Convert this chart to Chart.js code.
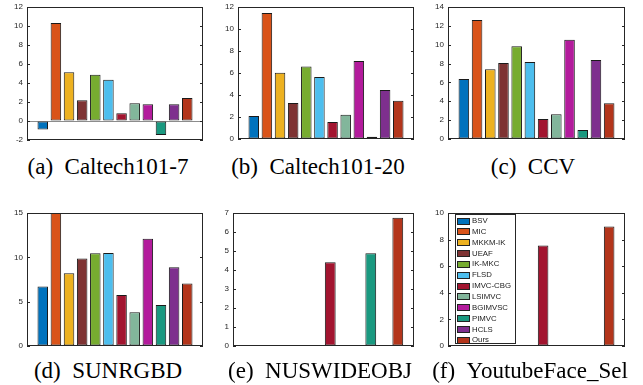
<!DOCTYPE html>
<html>
<head>
<meta charset="utf-8">
<script src="https://cdn.jsdelivr.net/npm/chart.js@4.4.1/dist/chart.umd.min.js"></script>
<style>
  body { margin: 0; background: #fff; }
  #fig { position: relative; width: 643px; height: 385px; overflow: hidden; background: #fff; }
  .panel { position: absolute; }
  .cap {
    position: absolute; width: 240px; text-align: center;
    font-family: "Liberation Serif", "Times New Roman", serif;
    font-size: 23px; line-height: 23px; color: #000; white-space: nowrap;
  }
  #legend {
    position: absolute; left: 455px; top: 214px; width: 61px; height: 130px;
    border: 1px solid #262626; background: #fff; box-sizing: border-box;
    font-family: "Liberation Sans", Arial, sans-serif; font-size: 7.8px; color: #1a1a1a;
  }
  #legend .item { position: absolute; left: 1px; height: 10px; line-height: 10px; white-space: nowrap; }
  #legend .sw { position: absolute; left: 0; top: 1.5px; width: 13px; height: 7px; border: 1px solid #222; box-sizing: border-box; }
  #legend .lb { position: absolute; left: 15px; top: 0; }
</style>
</head>
<body>
<div id="fig"></div>
<script>
// metodi e colori
const methods = ['BSV', 'MIC', 'MKKM-IK', 'UEAF', 'IK-MKC', 'FLSD', 'IMVC-CBG', 'LSIMVC', 'BGIMVSC', 'PIMVC', 'HCLS', 'Ours'];
const colors = ['#0072BD', '#D95319', '#EDB120', '#7E3333', '#77AC30', '#4DBEEE', '#A2142F', '#82B69B', '#B31B9C', '#1A9980', '#7E2F8E', '#B3351B'];

// valori
const caltech7  = [-0.9, 10.31, 5.14, 2.18, 4.86, 4.33, 0.81, 1.87, 1.76, -1.47, 1.76, 2.43];
const caltech20 = [2.09, 11.45, 6.03, 3.27, 6.6, 5.64, 1.55, 2.21, 7.09, 0.21, 4.45, 3.48];
const ccv       = [6.36, 12.62, 7.39, 8.06, 9.83, 8.17, 2.12, 2.62, 10.53, 0.95, 8.38, 3.78];
const sunrgbd   = [6.72, 15.2, 8.2, 9.86, 10.46, 10.5, 5.74, 3.82, 12.09, 4.61, 8.88, 7.06];
const nuswide   = [null, null, null, null, null, null, 4.41, null, null, 4.88, null, 6.75];
const youtube   = [null, null, null, null, null, null, 7.56, null, null, null, null, 8.99];

const captions = ['(a)\u2002Caltech101-7', '(b)\u2002Caltech101-20', '(c)\u2002CCV', '(d)\u2002SUNRGBD', '(e)\u2002NUSWIDEOBJ', '(f)\u2002YoutubeFace_Sel'];

// assi: [left, right, top, bottom], range y
const panels = [
  { data: caltech7,  box: [27, 203, 7, 140],   min: -2, max: 12, step: 2, cap: 0, cx: 108, cy: 155 },
  { data: caltech20, box: [238, 414, 7, 139],  min: 0, max: 12, step: 2,  cap: 1, cx: 318, cy: 155 },
  { data: ccv,       box: [448, 625, 7, 139],  min: 0, max: 14, step: 2,  cap: 2, cx: 533, cy: 155 },
  { data: sunrgbd,   box: [27, 203, 213, 346], min: 0, max: 15, step: 5,  cap: 3, cx: 108, cy: 359 },
  { data: nuswide,   box: [233, 414, 213, 346], min: 0, max: 7, step: 1,  cap: 4, cx: 320, cy: 359 },
  { data: youtube,   box: [448, 625, 213, 346], min: 0, max: 10, step: 2, cap: 5, cx: 530, cy: 359 }
];

const YW = 24, PT = 10, PB = 10, PR = 10;
const fig = document.getElementById('fig');

// cornice e tacche interne stile matlab
const boxPlugin = {
  id: 'box',
  afterDatasetsDraw(chart) {
    const ctx = chart.ctx;
    const a = chart.chartArea;
    const y = chart.scales.y;
    ctx.save();
    ctx.strokeStyle = '#262626';
    ctx.lineWidth = 1;
    ctx.beginPath();
    y.ticks.forEach(t => {
      const py = Math.round(y.getPixelForValue(t.value)) + 0.5;
      ctx.moveTo(a.left, py); ctx.lineTo(a.left + 3, py);
      ctx.moveTo(a.right, py); ctx.lineTo(a.right - 3, py);
    });
    ctx.stroke();
    ctx.strokeRect(Math.round(a.left) + 0.5, Math.round(a.top) + 0.5, Math.round(a.width) - 1, Math.round(a.height) - 1);
    ctx.restore();
  }
};

panels.forEach(p => {
  const [L, R, T, B] = p.box;
  const div = document.createElement('div');
  div.className = 'panel';
  div.style.left = (L - YW) + 'px';
  div.style.top = (T - PT) + 'px';
  div.style.width = (R - L + YW + PR) + 'px';
  div.style.height = (B - T + PT + PB) + 'px';
  const canvas = document.createElement('canvas');
  div.appendChild(canvas);
  fig.appendChild(div);

  const pts = p.data.map((v, i) => ({ x: i + 1, y: v }));

  new Chart(canvas.getContext('2d'), {
    type: 'bar',
    data: {
      datasets: [{
        data: pts,
        backgroundColor: colors,
        borderColor: '#1a1a1a',
        borderWidth: 1,
        borderSkipped: false,
        barPercentage: 0.8,
        categoryPercentage: 1
      }]
    },
    options: {
      responsive: true,
      maintainAspectRatio: false,
      animation: false,
      layout: { padding: { left: 0, right: PR, top: PT, bottom: PB } },
      plugins: { legend: { display: false }, tooltip: { enabled: false } },
      scales: {
        x: {
          type: 'linear', min: -0.2, max: 13.2, display: false,
          afterBuildTicks: s => { s.ticks = []; } // niente tick: la larghezza barre usa solo i dati
        },
        y: {
          min: p.min, max: p.max,
          afterFit: s => { s.width = YW; },
          border: { display: false },
          grid: {
            drawTicks: false,
            color: c => (c.tick && c.tick.value === 0 && p.min < 0) ? '#8c8c8c' : 'rgba(0,0,0,0)'
          },
          ticks: {
            stepSize: p.step, padding: 4, color: '#262626',
            font: { family: 'Liberation Sans', size: 8 }
          }
        }
      }
    },
    plugins: [boxPlugin]
  });

  const cap = document.createElement('div');
  cap.className = 'cap';
  cap.textContent = captions[p.cap];
  cap.style.left = (p.cx - 120) + 'px';
  cap.style.top = p.cy + 'px';
  fig.appendChild(cap);
});

// legenda del pannello (f)
const legend = document.createElement('div');
legend.id = 'legend';
methods.forEach((m, i) => {
  const it = document.createElement('div');
  it.className = 'item';
  it.style.top = (1 + i * 10.85) + 'px';
  const sw = document.createElement('span');
  sw.className = 'sw';
  sw.style.background = colors[i];
  const lb = document.createElement('span');
  lb.className = 'lb';
  lb.textContent = m;
  it.appendChild(sw);
  it.appendChild(lb);
  legend.appendChild(it);
});
fig.appendChild(legend);
</script>
</body>
</html>
